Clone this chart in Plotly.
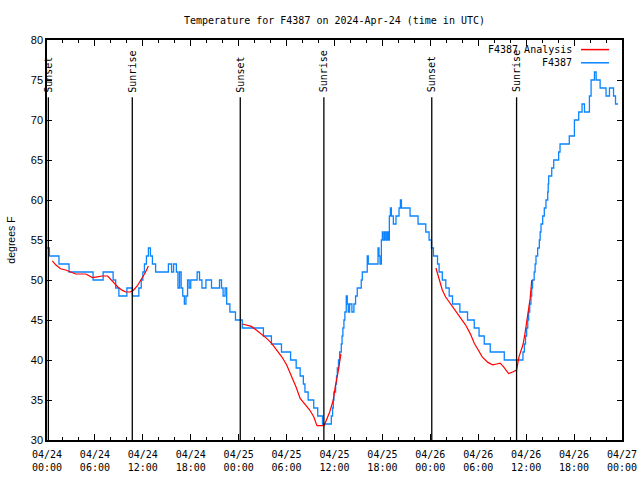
import plotly.graph_objects as go
import pandas as pd

BASE = pd.Timestamp("2024-04-24 00:00")

# Observed station temperature (hours after 2024-04-24 00:00 UTC, degrees F)
obs_hours = [0.0, 0.3, 1.5, 2.76, 5.77, 7.03, 8.28, 8.6, 9.0, 10.0, 10.7, 11.5, 11.8, 12.0, 12.2,
             12.45, 12.7, 12.95, 13.2, 13.6, 15.2, 15.6, 15.85, 16.2, 16.4, 16.6, 16.8, 17.0, 17.2,
             17.4, 17.6, 17.8, 18.0, 18.8, 19.1, 19.4, 19.9, 20.6, 21.6, 21.85, 22.05, 22.3, 22.5,
             22.9, 23.6,
             24.45, 27.1, 28.1, 29.36, 30.5, 31.2, 31.7, 32.1, 32.3, 32.7, 33.4, 33.9, 34.5, 35.6,
             35.76, 35.85, 35.93, 36.14, 36.25, 36.35, 36.5, 36.64, 36.85, 36.95, 37.05, 37.18, 37.3,
             37.47, 37.6, 37.72, 37.89, 38.18, 38.43, 38.64, 38.85, 39.35, 39.48, 40.1, 40.23, 41.45,
             41.57, 41.7, 41.87, 41.99, 42.1, 42.28, 42.45, 42.62, 42.74, 42.87, 43.0, 43.12, 43.37,
             43.7, 44.08, 44.25, 44.38, 45.46, 46.46, 47.43, 47.84,
             48.14, 48.39, 48.9, 49.1, 49.5, 49.94, 50.36, 50.78, 51.7, 52.66, 53.5, 54.1, 54.75,
             55.5, 57.26, 59.6, 59.77, 59.92, 60.06, 60.2, 60.31, 60.45, 60.6, 60.7, 60.8, 61.0,
             61.12, 61.23, 61.44, 61.65, 61.75, 61.86, 62.07, 62.27, 62.48, 62.7, 62.76, 62.82, 63.2,
             63.45, 64.07, 64.24, 65.4, 66.04, 66.58, 67.0, 67.3, 67.92, 68.13, 68.55, 68.76, 69.26,
             70.0, 70.43, 70.94, 71.19, 71.5]
obs_temps = [54, 53, 52, 51, 50, 51, 50, 49, 48, 49, 48, 49, 50, 51, 52,
             53, 54, 53, 52, 51, 52, 51, 52, 51, 49, 51, 49, 48, 47,
             48, 50, 49, 50, 51, 50, 49, 50, 49, 50, 49, 48, 49, 47,
             46, 45,
             44, 43, 42, 41, 40, 39, 38, 37, 36, 35, 34, 33, 32, 33,
             34, 35, 36, 37, 38, 39, 40, 41, 42, 43, 44, 45, 46,
             48, 47, 46, 47, 46, 47, 48, 49, 50, 51, 53, 52, 54,
             53, 52, 55, 56, 55, 56, 55, 56, 55, 58, 59, 58, 57,
             58, 59, 60, 59, 58, 57, 56, 55,
             54, 53, 52, 51, 50, 49, 48, 47, 46, 45, 44, 43, 42,
             41, 40, 41, 42, 43, 44, 45, 46, 47, 48, 49, 50, 51,
             52, 53, 54, 55, 56, 57, 58, 59, 60, 61, 62, 63, 64,
             65, 66, 67, 68, 70, 71, 72, 71, 73, 75, 76, 75, 74,
             73, 74, 73, 72, 72]

# Analysis temperature, three separate periods
ana_hours_1 = [0.67, 1.09, 1.7, 2.34, 2.97, 3.6, 4.85, 5.27, 5.7, 6.3, 6.9, 7.6, 8.0, 8.4, 8.9,
               9.45, 9.87, 10.4, 10.8, 11.3, 11.8, 12.3, 12.7]
ana_temps_1 = [52.4, 51.9, 51.4, 51.25, 51.0, 50.75, 50.75, 50.5, 50.3, 50.4, 50.5, 50.5, 50.1,
               49.7, 49.1, 48.7, 48.5, 48.5, 48.7, 49.25, 50.0, 50.9, 51.75]
ana_hours_2 = [24.47, 24.97, 25.6, 26.2, 26.85, 27.5, 28.1, 28.7, 29.4, 30.0, 30.6, 31.2, 31.7,
               32.3, 32.9, 33.4, 33.8, 34.7, 35.0, 35.4, 35.85, 36.1, 36.5, 36.8]
ana_temps_2 = [44.5, 44.4, 44.2, 43.75, 43.25, 42.7, 42.1, 41.3, 40.4, 39.4, 38.1, 36.6, 35.2,
               34.4, 33.75, 32.9, 31.8, 31.8, 32.5, 33.5, 35.0, 36.7, 38.75, 40.8]
ana_hours_3 = [48.7, 49.1, 49.5, 49.9, 50.6, 51.2, 51.8, 52.4, 53.0, 53.5, 54.0, 54.5, 55.2, 55.8,
               56.3, 56.75, 57.2, 57.8, 58.3, 58.8, 59.1, 59.6, 59.85, 60.2, 60.5, 60.7]
ana_temps_3 = [51.5, 50.0, 48.75, 47.9, 46.9, 46.0, 45.3, 44.4, 43.3, 42.1, 41.25, 40.4, 39.7,
               39.4, 39.5, 39.6, 39.1, 38.3, 38.5, 38.75, 40.4, 41.9, 43.3, 45.4, 47.7, 50.0]

# Sun events (hours after start)
event_hours = [0.17, 10.68, 24.2, 34.67, 48.18, 58.8]
event_labels = ["Sunset", "Sunrise", "Sunset", "Sunrise", "Sunset", "Sunrise"]

TITLE = "Temperature for F4387 on 2024-Apr-24 (time in UTC)"
Y_LABEL = "degrees F"
LEGEND_NAMES = ["F4387 Analysis", "F4387"]
RED = "#ff0000"
BLUE = "#0a84ff"
MONO = "DejaVu Sans Mono"
SANS = "Liberation Sans"


def to_time(hours):
    return [None if h is None else (BASE + pd.Timedelta(hours=h)).to_pydatetime() for h in hours]


ana_h = ana_hours_1 + [None] + ana_hours_2 + [None] + ana_hours_3
ana_t = ana_temps_1 + [None] + ana_temps_2 + [None] + ana_temps_3

fig = go.Figure()
fig.add_trace(go.Scatter(x=to_time(obs_hours), y=obs_temps, mode="lines",
                         line=dict(color=BLUE, width=1.3, shape="hv"),
                         name=LEGEND_NAMES[1], showlegend=False))
fig.add_trace(go.Scatter(x=to_time(ana_h), y=ana_t, mode="lines",
                         line=dict(color=RED, width=1.2), connectgaps=False,
                         name=LEGEND_NAMES[0], showlegend=False))

for t, lab in zip(to_time(event_hours), event_labels):
    fig.add_shape(type="line", xref="x", yref="y", x0=t, x1=t, y0=30, y1=72.85,
                  line=dict(color="black", width=1.3), layer="above")
    fig.add_annotation(x=t, y=73.2, xref="x", yref="y", text=lab, textangle=-90,
                       showarrow=False, xanchor="center", yanchor="bottom",
                       font=dict(family=MONO, size=10, color="black"))

# manual legend (text right, sample line to the right of it)
leg_y = [0.976, 0.943]
leg_cols = [RED, BLUE]
for name, yy, col in zip(LEGEND_NAMES, leg_y, leg_cols):
    fig.add_annotation(x=0.9165, y=yy, xref="paper", yref="paper", text=name, showarrow=False,
                       xanchor="right", yanchor="middle",
                       font=dict(family=MONO, size=10, color="black"))
    fig.add_shape(type="line", xref="paper", yref="paper", x0=0.9287, x1=0.9774, y0=yy, y1=yy,
                  line=dict(color=col, width=1.5))

fig.update_layout(
    width=640, height=480,
    margin=dict(l=47, r=18, t=40, b=40, autoexpand=False),
    paper_bgcolor="white", plot_bgcolor="white",
    title=dict(text=TITLE, x=0.5, xref="paper", y=1 - 20 / 480, yanchor="middle",
               font=dict(family=MONO, size=10, color="black")),
    showlegend=False,
)
fig.update_xaxes(
    type="date", range=[BASE.to_pydatetime(), (BASE + pd.Timedelta(hours=72)).to_pydatetime()],
    tickmode="linear", tick0=BASE.to_pydatetime(), dtick=6 * 3600 * 1000, automargin=False,
    tickformat="%m/%d<br>%H:%M", ticks="inside", ticklen=6, tickwidth=1, tickcolor="black",
    ticklabelstandoff=4,
    showline=True, linecolor="black", linewidth=1.5, mirror="ticks", showgrid=False,
    zeroline=False, tickfont=dict(family=MONO, size=10, color="black"),
    minor=dict(dtick=2 * 3600 * 1000, ticks="inside", ticklen=3, tickcolor="black", showgrid=False),
)
fig.update_yaxes(
    range=[30, 80], tickmode="linear", tick0=30, dtick=5, ticks="inside", ticklen=5,
    tickwidth=1, tickcolor="black", showline=True, linecolor="black", linewidth=1.5,
    mirror="ticks", showgrid=False, zeroline=False, automargin=False,
    tickfont=dict(family=SANS, size=11, color="black"),
    title=dict(text=Y_LABEL, font=dict(family=SANS, size=10.5, color="black"), standoff=13),
)

fig.write_html("out.html")
